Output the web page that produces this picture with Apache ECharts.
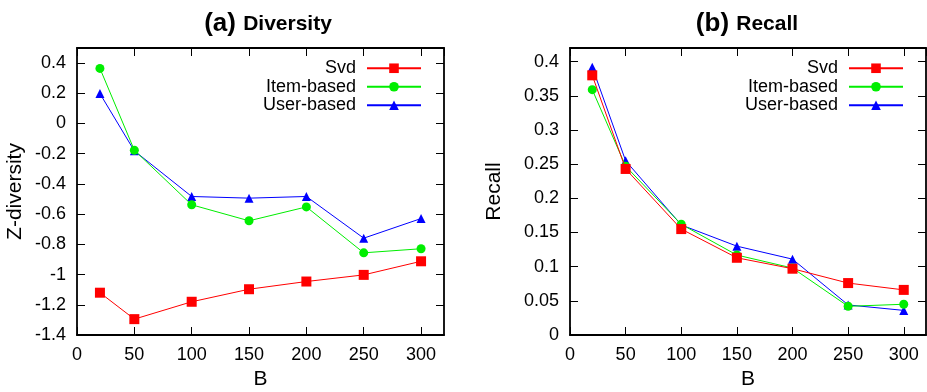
<!DOCTYPE html>
<html>
<head>
<meta charset="utf-8">
<script src="https://cdn.jsdelivr.net/npm/echarts@6/dist/echarts.min.js"></script>
<style>
  html, body { margin: 0; padding: 0; background: #fff; }
  #chart { width: 927px; height: 392px; }
</style>
</head>
<body>
<div id="chart"></div>
<script>
// B values (x axis)
const bValues = [20, 50, 100, 150, 200, 250, 300];
const seriesNames = ['Svd', 'Item-based', 'User-based'];

// (a) Diversity, Z-diversity
const divSvd = [-1.12, -1.295, -1.18, -1.097, -1.046, -1.002, -0.912];
const divItem = [0.365, -0.177, -0.538, -0.644, -0.552, -0.856, -0.829];
const divUser = [0.198, -0.181, -0.483, -0.494, -0.483, -0.759, -0.629];

// (b) Recall
const recSvd = [0.38, 0.243, 0.155, 0.113, 0.097, 0.076, 0.066];
const recItem = [0.359, 0.247, 0.162, 0.117, 0.098, 0.042, 0.045];
const recUser = [0.392, 0.255, 0.161, 0.13, 0.111, 0.044, 0.036];

const colors = ['#ff0000', '#00ee00', '#0000ff'];
const symbols = ['rect', 'circle', 'triangle'];
const symbolSizes = [10, 9, 9];
const font = 'Liberation Sans, Arial, Helvetica, sans-serif';

const chart = echarts.init(document.getElementById('chart'));

const pairs = (vals) => bValues.map((b, i) => [b, vals[i]]);

const frameLine = { show: true, onZero: false, lineStyle: { color: '#000', width: 1.8 } };
const tick = { show: true, inside: true, length: 8, lineStyle: { color: '#000', width: 1 } };
const tickLabel = { color: '#000', fontSize: 18, fontFamily: font };

function xAxes(grid, name) {
  return [
    {
      type: 'value', gridIndex: grid, position: 'bottom',
      min: 0, max: 320, interval: 50,
      name: name, nameLocation: 'middle', nameGap: 33,
      nameTextStyle: { color: '#000', fontSize: 21, fontFamily: font },
      axisLine: frameLine, axisTick: tick,
      axisLabel: { ...tickLabel, margin: 11, showMaxLabel: false },
      splitLine: { show: false },
    },
    {
      type: 'value', gridIndex: grid, position: 'top',
      min: 0, max: 320, interval: 50,
      axisLine: frameLine, axisTick: tick,
      axisLabel: { show: false }, splitLine: { show: false },
    },
  ];
}

function yAxes(grid, name, min, max, step, gap, fmt) {
  return [
    {
      type: 'value', gridIndex: grid, position: 'left',
      min: min, max: max, interval: step,
      name: name, nameLocation: 'middle', nameGap: gap,
      nameTextStyle: { color: '#000', fontSize: 21, fontFamily: font },
      axisLine: frameLine, axisTick: tick,
      axisLabel: { ...tickLabel, margin: 11, showMaxLabel: false, formatter: fmt },
      splitLine: { show: false },
    },
    {
      type: 'value', gridIndex: grid, position: 'right',
      min: min, max: max, interval: step,
      axisLine: frameLine, axisTick: tick,
      axisLabel: { show: false }, splitLine: { show: false },
    },
  ];
}

function lines(grid, lists) {
  return lists.map((vals, i) => ({
    name: seriesNames[i],
    type: 'line',
    xAxisIndex: grid * 2,
    yAxisIndex: grid * 2,
    data: pairs(vals),
    symbol: symbols[i],
    symbolSize: symbolSizes[i],
    lineStyle: { color: colors[i], width: 1 },
    itemStyle: { color: colors[i] },
    emphasis: { disabled: true },
    animation: false,
    z: 3 - i,
  }));
}

function legend(grid, right) {
  return {
    data: seriesNames,
    orient: 'vertical',
    align: 'right',
    right: right,
    top: 54,
    itemWidth: 54,
    itemHeight: 12,
    itemGap: 0,
    textStyle: { color: '#000', fontSize: 18, fontFamily: font, lineHeight: 18.5, padding: [0, 6, 0, 0] },
    seriesIndex: grid === 0 ? [0, 1, 2] : [3, 4, 5],
  };
}

const titleRich = {
  a: { fontSize: 26, fontWeight: 'bold', fontFamily: font, fill: '#000' },
  b: { fontSize: 21, fontWeight: 'bold', fontFamily: font, fill: '#000' },
};

chart.setOption({
  backgroundColor: '#fff',
  animation: false,
  grid: [
    { left: 77, right: 483, top: 48, bottom: 57, outerBoundsMode: 'none' },
    { left: 570, right: 1, top: 48, bottom: 57, outerBoundsMode: 'none' },
  ],
  xAxis: [...xAxes(0, 'B'), ...xAxes(1, 'B')],
  yAxis: [
    ...yAxes(0, 'Z-diversity', -1.4, 0.5, 0.2, 51, (v) => String(+v.toFixed(1))),
    ...yAxes(1, 'Recall', 0, 0.42, 0.05, 65, (v) => String(+v.toFixed(2))),
  ],
  legend: [legend(0, 500), legend(1, 18)],
  graphic: [
    {
      type: 'text', x: 268, y: 24,
      style: { text: '{a|(a) }{b|Diversity}', align: 'center', verticalAlign: 'middle', rich: titleRich },
    },
    {
      type: 'text', x: 747, y: 24,
      style: { text: '{a|(b) }{b|Recall}', align: 'center', verticalAlign: 'middle', rich: titleRich },
    },
  ],
  series: [
    ...lines(0, [divSvd, divItem, divUser]),
    ...lines(1, [recSvd, recItem, recUser]),
  ],
});
</script>
</body>
</html>
